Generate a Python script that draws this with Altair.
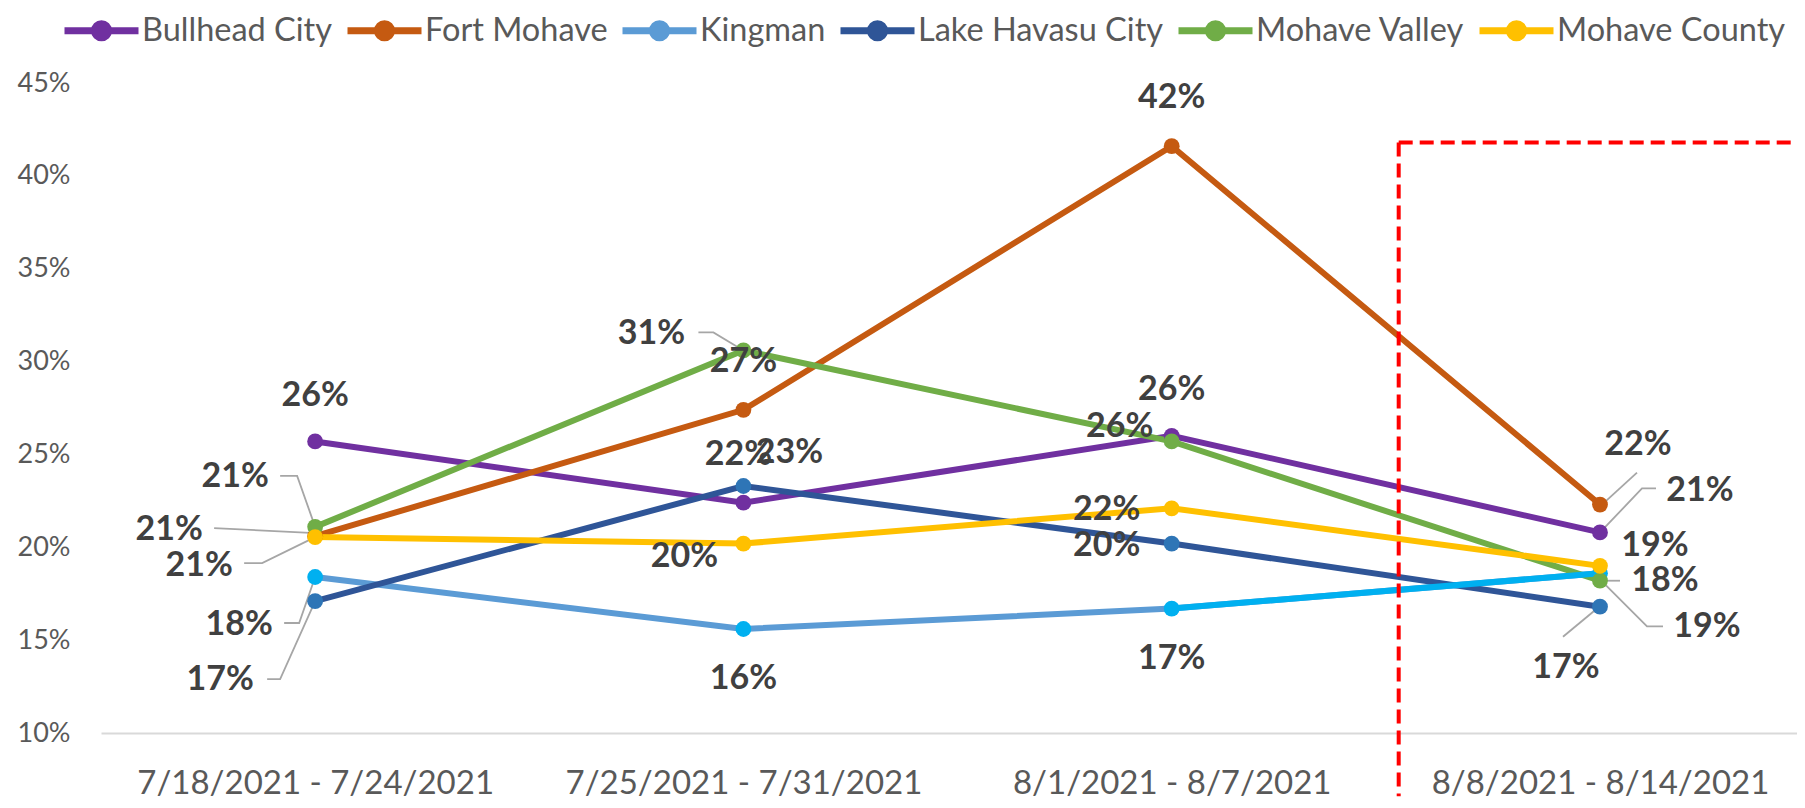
import json
import altair as alt
import pandas as pd

# ---------------- data ----------------
CATEGORIES = ["7/18/2021 - 7/24/2021", "7/25/2021 - 7/31/2021",
              "8/1/2021 - 8/7/2021", "8/8/2021 - 8/14/2021"]
SERIES = ["Bullhead City", "Fort Mohave", "Kingman", "Lake Havasu City",
          "Mohave Valley", "Mohave County"]
BULLHEAD_CITY = [0.257, 0.224, 0.260, 0.208]
FORT_MOHAVE = [0.206, 0.274, 0.416, 0.223]
KINGMAN = [0.184, 0.156, 0.167, 0.186]
LAKE_HAVASU_CITY = [0.171, 0.233, 0.202, 0.168]
MOHAVE_VALLEY = [0.211, 0.306, 0.257, 0.182]
MOHAVE_COUNTY = [0.2055, 0.202, 0.221, 0.190]
VALUES = [BULLHEAD_CITY, FORT_MOHAVE, KINGMAN, LAKE_HAVASU_CITY, MOHAVE_VALLEY, MOHAVE_COUNTY]
Y_TICKS = [0.10, 0.15, 0.20, 0.25, 0.30, 0.35, 0.40, 0.45]

# dashed highlight box (in axis units)
HIGHLIGHT_START = 2.53
HIGHLIGHT_TOP = 0.418
HIGHLIGHT_BOTTOM = 0.066

# ---------------- style / layout ----------------
LINE_COLORS = ["#7030A0", "#C55A11", "#5B9BD5", "#2F5597", "#70AD47", "#FFC000"]
MARKER_COLORS = ["#7030A0", "#C55A11", "#00B0F0", "#2E75B6", "#70AD47", "#FFC000"]
KINGMAN_LAST_SEGMENT = "#00B0F0"

# label centre offsets in pixels relative to the point (dx, dy)
LABEL_OFFSETS = [
    [(0, -45), (-5, -48), (0, -46), (100, -41)],      # Bullhead City
    [(-146, -6), (0, -48), (0, -48), (38, -60)],      # Fort Mohave
    [(-76, 48), (0, 50), (0, 50), (107, 54)],         # Kingman
    [(-95, 79), (46, -33), (-65, 2), (-34, 61)],      # Lake Havasu City
    [(-80, -50), (-92, -16), (-52, -14), (65, 0)],    # Mohave Valley
    [(-116, 29), (-59, 13), (-65, 2), (55, -20)],     # Mohave County
]
# leader lines: (series index, category index, pixel offsets of vertices)
LEADERS = [
    (4, 0, [(-35, -51), (-18, -51), (0, 0)]),
    (1, 0, [(-101, -8), (0, -3)]),
    (5, 0, [(-71, 26), (-53, 26), (0, 0)]),
    (2, 0, [(-31, 46), (-16, 46), (0, 0)]),
    (3, 0, [(-48, 78), (-35, 78), (0, 0)]),
    (4, 1, [(-45, -18), (-30, -18), (0, 0)]),
    (1, 3, [(2, 0), (37, -32)]),
    (0, 3, [(2, -2), (42, -44), (56, -44)]),
    (4, 3, [(2, 0), (20, 0)]),
    (2, 3, [(2, 8), (47, 53), (63, 53)]),
    (3, 3, [(-2, 1), (-37, 30)]),
]

W, H = 1696, 650
PAD = {"left": 93, "top": 75, "right": 0, "bottom": 67}
X_MIN, X_MAX = -0.5, 3.46
Y_MIN, Y_MAX = Y_TICKS[0], Y_TICKS[-1]
PXX = W / (X_MAX - X_MIN)
PXY = H / (Y_MAX - Y_MIN)

# ---------------- tables ----------------
rows = []
for s, vals in zip(SERIES, VALUES):
    for i, v in enumerate(vals):
        rows.append({"series": s, "x": i, "y": v, "order": i})
points = pd.DataFrame(rows)

lab_rows = []
for si, (s, vals) in enumerate(zip(SERIES, VALUES)):
    for i, v in enumerate(vals):
        dx, dy = LABEL_OFFSETS[si][i]
        lab_rows.append({"series": s, "x": i + dx / PXX, "y": v - dy / PXY, "value": v})
labels = pd.DataFrame(lab_rows)

lead_rows = []
for k, (si, ci, pts) in enumerate(LEADERS):
    v = VALUES[si][ci]
    for j, (dx, dy) in enumerate(pts):
        lead_rows.append({"leader": k, "order": j, "x": ci + dx / PXX, "y": v - dy / PXY})
leaders = pd.DataFrame(lead_rows)

kseg = points[(points.series == "Kingman") & (points.x >= 2)]

box_v = pd.DataFrame([{"x": HIGHLIGHT_START, "y": HIGHLIGHT_TOP, "y2": HIGHLIGHT_BOTTOM}])
box_h = pd.DataFrame([{"x": HIGHLIGHT_START, "x2": X_MAX, "y": HIGHLIGHT_TOP}])

label_expr = "[" + ",".join(json.dumps(c) for c in CATEGORIES) + "][datum.value]"

x_enc = alt.X("x:Q", title=None,
              scale=alt.Scale(domain=[X_MIN, X_MAX], nice=False, zero=False),
              axis=alt.Axis(values=[0, 1, 2, 3], labelExpr=label_expr, grid=False,
                            ticks=False, domain=True, domainColor="#D9D9D9",
                            domainWidth=2, labelFont="Lato", labelFontSize=33,
                            labelColor="#595959", labelPadding=34, labelFlush=False,
                            labelOverlap=False, labelLimit=1000, title=None))
y_enc = alt.Y("y:Q", title=None,
              scale=alt.Scale(domain=[Y_MIN, Y_MAX], nice=False, zero=False),
              axis=alt.Axis(values=Y_TICKS, format=".0%", grid=False, ticks=False,
                            domain=False, labelFont="Lato", labelFontSize=27,
                            labelColor="#595959", labelPadding=31, title=None))
xq = alt.X("x:Q", title=None)
yq = alt.Y("y:Q", title=None)

# legend glyph: a line with a dot; unit box = whole line length
LEGEND_SYMBOL = ("M-1,0L1,0"
                 "M-0.19,0A0.19,0.19,0,1,1,0.19,0A0.19,0.19,0,1,1,-0.19,0Z"
                 "M-0.08,0A0.08,0.08,0,1,1,0.08,0A0.08,0.08,0,1,1,-0.08,0Z")

color = alt.Color(
    "series:N", sort=SERIES,
    scale=alt.Scale(domain=SERIES, range=LINE_COLORS),
    legend=alt.Legend(
        title=None, orient="none", legendX=-40, legendY=-93, direction="horizontal",
        columns=6, symbolType=LEGEND_SYMBOL, symbolSize=5476, symbolStrokeWidth=7,
        labelFont="Lato", labelFontSize=32.5, labelColor="#595959", labelOffset=0,
        columnPadding=0, padding=0, labelLimit=400, symbolOpacity=1,
    ),
)

lines = alt.Chart(points).mark_line(strokeWidth=6).encode(
    x=x_enc, y=y_enc, color=color, order="order:Q")

king_last = alt.Chart(kseg).mark_line(strokeWidth=6, color=KINGMAN_LAST_SEGMENT).encode(
    x=xq, y=yq, order="order:Q")

leader_lines = alt.Chart(leaders).mark_line(strokeWidth=1.8, color="#A6A6A6").encode(
    x=xq, y=yq, detail="leader:N", order="order:Q")

markers = alt.Chart(points).mark_point(filled=True, size=250, opacity=1, strokeWidth=0).encode(
    x=xq, y=yq,
    fill=alt.Fill("series:N", scale=alt.Scale(domain=SERIES, range=MARKER_COLORS), legend=None))

box_left = alt.Chart(box_v).mark_rule(color="#FF0000", strokeWidth=4, strokeDash=[14, 7]).encode(
    x=xq, y=yq, y2="y2:Q")
box_top = alt.Chart(box_h).mark_rule(color="#FF0000", strokeWidth=4, strokeDash=[14, 7]).encode(
    x=xq, x2="x2:Q", y=yq)

texts = alt.Chart(labels).mark_text(font="Lato", fontSize=34, fontWeight="bold",
                                    color="#404040", baseline="middle", align="center").encode(
    x=xq, y=yq, text=alt.Text("value:Q", format=".0%"))

chart = alt.layer(lines, king_last, leader_lines, markers, box_left, box_top, texts).properties(
    width=W, height=H, padding=PAD,
    autosize=alt.AutoSizeParams(type="none"),
).configure(background="#ffffff").configure_view(stroke=None)

chart.save("out.html", embed_options={"renderer": "svg", "actions": False})
